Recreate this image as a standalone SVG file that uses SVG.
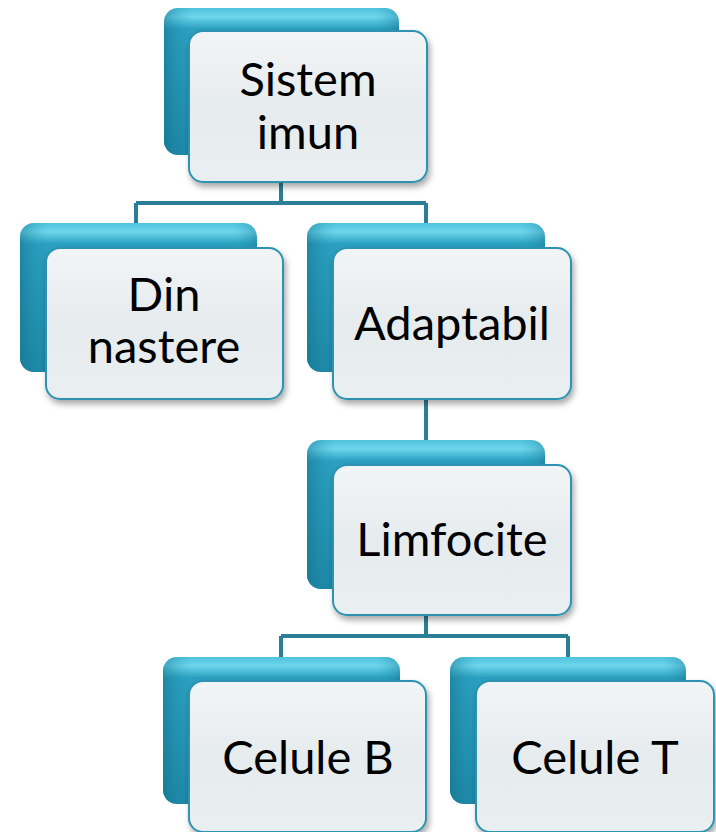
<svg xmlns="http://www.w3.org/2000/svg" width="716" height="832" viewBox="0 0 716 832">
<defs>
<linearGradient id="gBack" x1="0" y1="0" x2="0" y2="1">
<stop offset="0" stop-color="#4fc3dd"/>
<stop offset="0.06" stop-color="#6dd6ec"/>
<stop offset="0.14" stop-color="#2aa0c0"/>
<stop offset="1" stop-color="#1c86a5"/>
</linearGradient>
<linearGradient id="gBackSide" x1="0" y1="0" x2="1" y2="0">
<stop offset="0" stop-color="#136e89" stop-opacity="0.5"/>
<stop offset="0.12" stop-color="#2aa0c0" stop-opacity="0"/>
<stop offset="0.9" stop-color="#2aa0c0" stop-opacity="0"/>
<stop offset="1" stop-color="#136e89" stop-opacity="0.4"/>
</linearGradient>
<linearGradient id="gFront" x1="0" y1="0" x2="0" y2="1">
<stop offset="0" stop-color="#f2f5f6"/>
<stop offset="0.5" stop-color="#e6ebee"/>
<stop offset="1" stop-color="#e9eef0"/>
</linearGradient>
<filter id="shadow" x="-10%" y="-10%" width="130%" height="130%">
<feDropShadow dx="2" dy="4" stdDeviation="3" flood-color="#000" flood-opacity="0.35"/>
</filter>
</defs>
<style>
.back{fill:url(#gBack);}
.side{fill:url(#gBackSide);}
.front{fill:url(#gFront);stroke:#2e93b1;stroke-width:2;filter:url(#shadow);}
.lbl{font-family:Lato,"Open Sans",sans-serif;font-size:47px;fill:#000;text-anchor:middle;}
.conn{fill:none;stroke:#2a7f97;stroke-width:4;}
</style>
<g id="connectors">
<path class="conn" d="M281,182 V203 M136,203 H426 M136,203 V224 M426,203 V224"/>
<path class="conn" d="M426,399 V441"/>
<path class="conn" d="M426,615 V636 M281,636 H568 M281,636 V658 M568,636 V658"/>
</g>
<g id="n-sistem">
<rect class="back" x="164" y="8" width="235" height="147" rx="14"/>
<rect class="side" x="164" y="8" width="235" height="147" rx="14"/>
<rect class="front" x="189" y="31" width="238" height="151" rx="14"/>
<text class="lbl" x="308" y="96">Sistem</text>
<text class="lbl" x="308" y="149">imun</text>
</g>
<g id="n-din">
<rect class="back" x="20" y="223" width="237" height="149" rx="14"/>
<rect class="side" x="20" y="223" width="237" height="149" rx="14"/>
<rect class="front" x="46" y="248" width="237" height="151" rx="14"/>
<text class="lbl" x="164" y="311">Din</text>
<text class="lbl" x="164" y="363">nastere</text>
</g>
<g id="n-adaptabil">
<rect class="back" x="307" y="223" width="238" height="149" rx="14"/>
<rect class="side" x="307" y="223" width="238" height="149" rx="14"/>
<rect class="front" x="333" y="248" width="238" height="151" rx="14"/>
<text class="lbl" x="452" y="340">Adaptabil</text>
</g>
<g id="n-limfocite">
<rect class="back" x="307" y="440" width="238" height="149" rx="14"/>
<rect class="side" x="307" y="440" width="238" height="149" rx="14"/>
<rect class="front" x="333" y="465" width="238" height="150" rx="14"/>
<text class="lbl" x="452" y="556">Limfocite</text>
</g>
<g id="n-celuleb">
<rect class="back" x="163" y="657" width="237" height="147" rx="14"/>
<rect class="side" x="163" y="657" width="237" height="147" rx="14"/>
<rect class="front" x="189" y="681" width="237" height="151" rx="14"/>
<text class="lbl" x="308" y="774">Celule B</text>
</g>
<g id="n-celulet">
<rect class="back" x="450" y="657" width="236" height="147" rx="14"/>
<rect class="side" x="450" y="657" width="236" height="147" rx="14"/>
<rect class="front" x="476" y="681" width="238" height="151" rx="14"/>
<text class="lbl" x="595" y="774">Celule T</text>
</g>
</svg>
